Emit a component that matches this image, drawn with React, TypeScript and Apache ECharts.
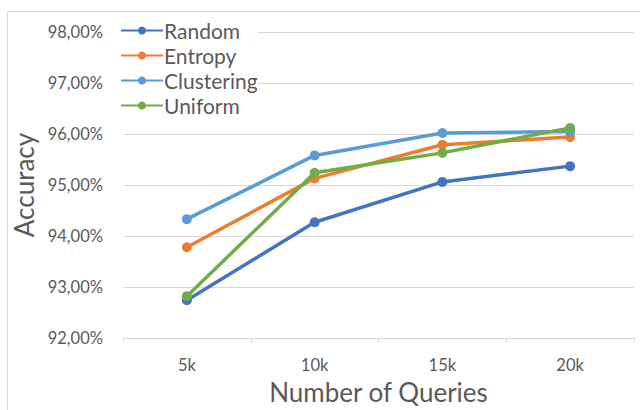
import React, { useEffect, useRef } from "react";
import * as echarts from "echarts";

const categories = ["5k", "10k", "15k", "20k"];
const randomVals = [92.74, 94.27, 95.06, 95.37];
const entropyVals = [93.78, 95.13, 95.79, 95.94];
const clusteringVals = [94.33, 95.58, 96.02, 96.05];
const uniformVals = [92.82, 95.24, 95.63, 96.12];
const seriesNames = ["Random", "Entropy", "Clustering", "Uniform"];
const seriesColors = ["#4472C4", "#ED7D31", "#5B9BD5", "#70AD47"];

const FONT = "Lato, 'Open Sans', sans-serif";

export default function App() {
  const ref = useRef<HTMLDivElement>(null);
  useEffect(() => {
    if (!ref.current) return;
    const chart = echarts.init(ref.current, undefined, { renderer: "svg" });
    const data = [randomVals, entropyVals, clusteringVals, uniformVals];
    chart.setOption({
      animation: false,
      backgroundColor: "#ffffff",
      textStyle: { fontFamily: FONT },
      graphic: [
        {
          type: "rect",
          shape: { x: 7.5, y: 11.5, width: 700, height: 500 },
          style: { fill: "none", stroke: "#d9d9d9", lineWidth: 1 },
          silent: true,
          z: -10,
        },
      ],
      grid: { left: 123, right: 6, top: 32, bottom: 69, containLabel: false },
      legend: {
        left: 120,
        top: 20,
        orient: "vertical",
        itemGap: 4,
        itemWidth: 42,
        itemHeight: 10,
        data: seriesNames,
        textStyle: { fontSize: 21, color: "#595959", fontFamily: FONT, padding: [0, 0, 0, -4] },
        backgroundColor: "#ffffff",
        padding: 0,
      },
      xAxis: {
        type: "category",
        data: categories,
        boundaryGap: true,
        name: "Number of Queries",
        nameLocation: "middle",
        nameGap: 41,
        nameTextStyle: { fontSize: 26, color: "#595959", fontFamily: FONT },
        axisLine: { lineStyle: { color: "#d9d9d9", width: 1 } },
        axisTick: { show: true, length: 5, lineStyle: { color: "#d9d9d9" } },
        axisLabel: { fontSize: 16.5, color: "#595959", margin: 18, fontFamily: FONT },
      },
      yAxis: {
        type: "value",
        min: 92,
        max: 98,
        interval: 1,
        name: "Accuracy",
        nameLocation: "middle",
        nameGap: 81,
        nameTextStyle: { fontSize: 26, color: "#595959", fontFamily: FONT },
        axisLine: { show: false },
        axisTick: { show: false },
        splitLine: { lineStyle: { color: "#d9d9d9", width: 1 } },
        axisLabel: {
          fontSize: 16.5,
          color: "#595959",
          margin: 20,
          fontFamily: FONT,
          formatter: (v: number) => v.toFixed(2).replace(".", ",") + "%",
        },
      },
      series: seriesNames.map((name, i) => ({
        name,
        type: "line",
        data: data[i],
        color: seriesColors[i],
        symbol: "circle",
        symbolSize: 10,
        lineStyle: { width: 3.5, color: seriesColors[i] },
        itemStyle: { color: seriesColors[i] },
        z: 2 + i,
      })),
    });
    return () => chart.dispose();
  }, []);
  return (
    <div
      ref={ref}
      style={{ position: "fixed", left: 0, top: 0, width: 640, height: 410 }}
    />
  );
}
